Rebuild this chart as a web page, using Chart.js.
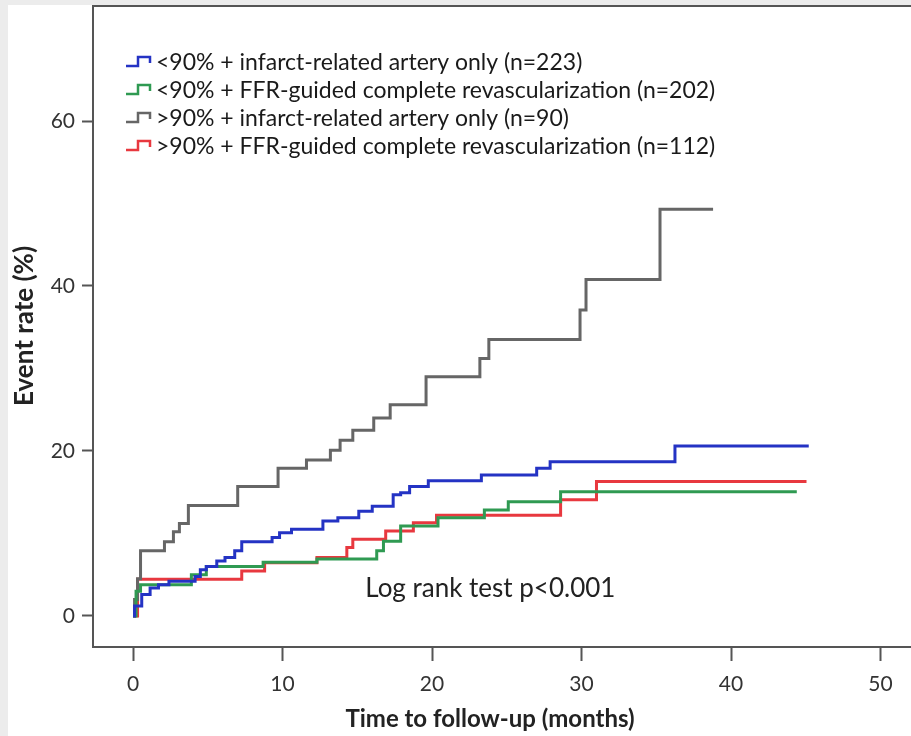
<!DOCTYPE html>
<html>
<head>
<meta charset="utf-8">
<script src="https://cdn.jsdelivr.net/npm/chart.js@4.4.1/dist/chart.umd.min.js"></script>
<style>
  html, body { margin: 0; padding: 0; background: #ffffff; }
  #wrap { width: 911px; height: 736px; position: relative; }
</style>
</head>
<body>
<div id="wrap"><canvas id="c" width="911" height="736"></canvas></div>
<script>
// ---- Data (months, event rate %) ----
const seriesNames = [
  "<90% + infarct-related artery only (n=223)",
  "<90% + FFR-guided complete revascularization (n=202)",
  ">90% + infarct-related artery only (n=90)",
  ">90% + FFR-guided complete revascularization (n=112)"
];
const seriesColors = ["#2433c4", "#2f9a52", "#666666", "#e8383f"];

const blueT = [0, 0.1, 0.58, 1.14, 1.7, 2.4, 4.15, 4.5, 4.9, 5.6, 6.15, 6.8, 7.27, 9.3, 9.8, 10.6, 12.7, 13.7, 15.1, 16.0, 17.4, 17.9, 18.5, 19.75, 23.3, 27.0, 27.9, 36.25, 45.2];
const blueV = [0, 1.2, 2.6, 3.4, 3.8, 4.2, 4.8, 5.6, 6.0, 6.65, 7.1, 7.9, 9.0, 9.5, 10.1, 10.5, 11.5, 11.9, 12.7, 13.3, 14.7, 14.95, 15.7, 16.4, 17.1, 17.9, 18.7, 20.6, 20.6];

const greenT = [0, 0.2, 0.5, 3.9, 4.9, 8.7, 12.3, 16.3, 16.75, 17.9, 20.4, 23.5, 25.1, 28.6, 44.4];
const greenV = [0, 3.0, 3.8, 5.0, 6.0, 6.5, 6.9, 7.9, 9.05, 10.9, 11.9, 12.85, 13.85, 15.05, 15.05];

const grayT = [0, 0.1, 0.3, 0.5, 2.1, 2.7, 3.1, 3.7, 7.0, 9.7, 11.6, 13.2, 13.85, 14.7, 16.1, 17.2, 19.6, 23.2, 23.8, 29.9, 30.3, 35.25, 38.8];
const grayV = [0, 2.0, 4.5, 7.9, 9.0, 10.2, 11.2, 13.4, 15.7, 17.9, 18.9, 20.1, 21.3, 22.5, 24.0, 25.6, 29.0, 31.2, 33.5, 37.1, 40.8, 49.3, 49.3];

const redT = [0, 0.3, 7.27, 8.8, 12.3, 14.3, 14.7, 16.9, 18.75, 20.3, 28.6, 31.0, 45.05];
const redV = [0, 4.45, 5.45, 6.45, 7.1, 8.3, 9.3, 10.3, 11.3, 12.2, 14.1, 16.3, 16.3];

const xTickLabels = [0, 10, 20, 30, 40, 50];
const yTickLabels = [0, 20, 40, 60];
const xTitle = "Time to follow-up (months)";
const yTitle = "Event rate (%)";
const annotationText = "Log rank test p<0.001";

// ---- build ----
function pts(t, v) { return t.map((x, i) => ({ x: x, y: v[i] })); }
const seriesData = [pts(blueT, blueV), pts(greenT, greenV), pts(grayT, grayV), pts(redT, redV)];

const FONT = "Lato, 'Open Sans', sans-serif";

const bgPlugin = {
  id: 'bg',
  beforeDraw(chart) {
    const ctx = chart.ctx;
    ctx.save();
    ctx.fillStyle = '#ececec';
    ctx.fillRect(0, 0, chart.width, chart.height);
    ctx.fillStyle = '#ffffff';
    ctx.fillRect(8, 5, chart.width - 8, chart.height - 5);
    ctx.restore();
  }
};

const decoPlugin = {
  id: 'deco',
  afterDraw(chart) {
    const ctx = chart.ctx;
    const ca = chart.chartArea;
    const xs = chart.scales.x, ys = chart.scales.y;
    ctx.save();
    // top frame line
    ctx.strokeStyle = '#555555';
    ctx.lineWidth = 2;
    ctx.beginPath();
    ctx.moveTo(ca.left - 1, ca.top);
    ctx.lineTo(ca.right, ca.top);
    ctx.stroke();

    // legend
    ctx.font = "23px " + FONT;
    ctx.textBaseline = 'middle';
    ctx.textAlign = 'left';
    const rows = [62, 90, 118, 146];
    seriesNames.forEach((name, i) => {
      const c = rows[i];
      ctx.strokeStyle = seriesColors[i];
      ctx.lineWidth = 2.5;
      ctx.beginPath();
      ctx.moveTo(126, c + 4);
      ctx.lineTo(138, c + 4);
      ctx.lineTo(138, c - 5);
      ctx.lineTo(150, c - 5);
      ctx.lineTo(150, c + 1);
      ctx.stroke();
      ctx.fillStyle = '#1a1a1a';
      ctx.fillText(name, 156, c + 1);
    });

    // annotation
    ctx.font = "26px " + FONT;
    ctx.textAlign = 'center';
    ctx.fillStyle = '#222222';
    ctx.fillText(annotationText, xs.getPixelForValue(23.9), ys.getPixelForValue(3.3));

    // axis titles
    ctx.font = "bold 24px " + FONT;
    ctx.fillStyle = '#222222';
    ctx.fillText(xTitle, 490, 719);
    ctx.save();
    ctx.font = "bold 26px " + FONT;
    ctx.translate(25, 326);
    ctx.rotate(-Math.PI / 2);
    ctx.fillText(yTitle, 0, 0);
    ctx.restore();
    ctx.restore();
  }
};

new Chart(document.getElementById('c'), {
  type: 'line',
  data: {
    datasets: seriesData.map((d, i) => ({
      label: seriesNames[i],
      data: d,
      borderColor: seriesColors[i],
      backgroundColor: seriesColors[i],
      borderWidth: 3,
      pointRadius: 0,
      stepped: 'before',
      fill: false
    }))
  },
  options: {
    responsive: false,
    animation: false,
    devicePixelRatio: 1,
    layout: { padding: { left: 0, top: 6, right: 0, bottom: 0 } },
    plugins: { legend: { display: false }, tooltip: { enabled: false } },
    scales: {
      x: {
        type: 'linear',
        min: -2.68, max: 52.04,
        afterFit(s) { s.height = 89; s.paddingLeft = 0; s.paddingRight = 0; },
        afterBuildTicks(s) { s.ticks = xTickLabels.map(v => ({ value: v })); },
        grid: { display: true, drawOnChartArea: false, drawTicks: true, tickLength: 14, tickWidth: 2, tickColor: '#555555' },
        border: { display: true, color: '#555555', width: 2 },
        ticks: { font: { family: FONT, size: 21 }, color: '#333333', padding: 11, maxRotation: 0 }
      },
      y: {
        type: 'linear',
        min: -3.76, max: 73.94,
        afterFit(s) { s.width = 93; s.paddingTop = 0; s.paddingBottom = 0; },
        afterBuildTicks(s) { s.ticks = yTickLabels.map(v => ({ value: v })); },
        grid: { display: true, drawOnChartArea: false, drawTicks: true, tickLength: 11, tickWidth: 2, tickColor: '#555555' },
        border: { display: true, color: '#555555', width: 2 },
        ticks: { font: { family: FONT, size: 21 }, color: '#333333', padding: 7 }
      }
    }
  },
  plugins: [bgPlugin, decoPlugin]
});
</script>
</body>
</html>
